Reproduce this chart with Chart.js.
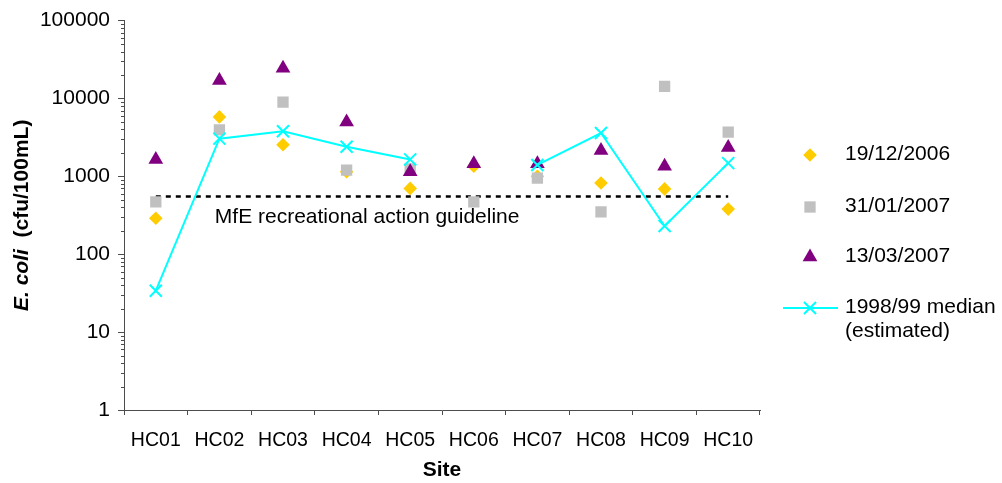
<!DOCTYPE html>
<html>
<head>
<meta charset="utf-8">
<script src="https://cdn.jsdelivr.net/npm/chart.js@4"></script>
<style>
  html, body { margin: 0; padding: 0; background: #fff; }
  #wrap { width: 1002px; height: 483px; position: relative; }
</style>
</head>
<body>
<div id="wrap"><canvas id="c" width="1002" height="483"></canvas></div>
<script>
// Sampling sites along the creek
const sites = ['HC01', 'HC02', 'HC03', 'HC04', 'HC05', 'HC06', 'HC07', 'HC08', 'HC09', 'HC10'];

// E. coli counts (cfu/100mL) for each sampling round
const dec2006 = [290, 5800, 2550, 1150, 700, 1350, 1000, 820, 690, 380];
const jan2007 = [470, 3950, 9000, 1200, 1250, 470, 950, 350, 14300, 3700];
const mar2007 = [1650, 17000, 24500, 5000, 1150, 1450, 1450, 2150, 1350, 2350];

// Estimated 1998/99 medians (no value for HC06)
const median9899 = [34, 3050, 3800, 2400, 1650, null, 1400, 3600, 230, 1480];

// MfE recreational action guideline level
const guidelineValue = 550;
const guideline = sites.map(() => guidelineValue);

// Log axis labels
const yTicks = [1, 10, 100, 1000, 10000, 100000];

const FONT = '"Liberation Sans", Arial, sans-serif';
const AXIS_COLOR = '#4d4d4d';

const seriesStyles = {
  dec: { label: '19/12/2006', pointStyle: 'rectRot', color: '#FFCC00', radius: 6.8 },
  jan: { label: '31/01/2007', pointStyle: 'rect', color: '#C0C0C0', radius: 8 },
  mar: { label: '13/03/2007', pointStyle: 'triangle', color: '#800080', radius: 8.5 },
  med: { label: '1998/99 median', pointStyle: 'crossRot', color: '#00FFFF', radius: 8.5 }
};

function markerDataset(data, s, order) {
  return {
    label: s.label,
    data: data,
    showLine: false,
    pointStyle: s.pointStyle,
    pointRadius: s.radius,
    pointHoverRadius: s.radius,
    pointBackgroundColor: s.color,
    pointBorderColor: s.color,
    pointBorderWidth: 0,
    borderColor: s.color,
    backgroundColor: s.color,
    order: order
  };
}

// Minor log ticks, guideline caption, y-axis title and legend
const decorations = {
  id: 'decorations',
  afterDraw(chart) {
    const ctx = chart.ctx;
    const x = chart.scales.x;
    const y = chart.scales.y;
    const area = chart.chartArea;

    // minor ticks on the log axis
    ctx.save();
    ctx.strokeStyle = AXIS_COLOR;
    ctx.lineWidth = 1;
    ctx.beginPath();
    for (let k = 0; k < 5; k++) {
      for (let m = 2; m <= 9; m++) {
        const py = Math.round(y.getPixelForValue(m * Math.pow(10, k))) + 0.5;
        ctx.moveTo(area.left - 3, py);
        ctx.lineTo(area.left, py);
      }
    }
    ctx.stroke();
    ctx.restore();

    // guideline caption
    ctx.save();
    ctx.fillStyle = '#000';
    ctx.font = '21px ' + FONT;
    ctx.textAlign = 'left';
    ctx.textBaseline = 'middle';
    ctx.fillText('MfE recreational action guideline',
      x.getPixelForValue(0) + 59, y.getPixelForValue(guidelineValue) + 21);
    ctx.restore();

    // y-axis title: italic species name followed by units
    ctx.save();
    const part1 = 'E. coli';
    const part2 = '  (cfu/100mL)';
    ctx.translate(22, (area.top + area.bottom) / 2);
    ctx.rotate(-Math.PI / 2);
    ctx.fillStyle = '#000';
    ctx.textBaseline = 'middle';
    ctx.textAlign = 'left';
    ctx.font = 'italic bold 21px ' + FONT;
    const w1 = ctx.measureText(part1).width;
    ctx.font = 'bold 21px ' + FONT;
    const w2 = ctx.measureText(part2).width;
    const start = -(w1 + w2) / 2;
    ctx.font = 'italic bold 21px ' + FONT;
    ctx.fillText(part1, start, 0);
    ctx.font = 'bold 21px ' + FONT;
    ctx.fillText(part2, start + w1, 0);
    ctx.restore();

    // legend
    const lx = 810, tx = 845;
    const items = [
      { s: seriesStyles.dec, y: 155, text: ['19/12/2006'] },
      { s: seriesStyles.jan, y: 207, text: ['31/01/2007'] },
      { s: seriesStyles.mar, y: 257, text: ['13/03/2007'] },
      { s: seriesStyles.med, y: 308, text: ['1998/99 median', '(estimated)'], line: true }
    ];
    items.forEach(it => {
      ctx.save();
      ctx.fillStyle = it.s.color;
      ctx.strokeStyle = it.s.color;
      ctx.lineWidth = 2;
      if (it.line) {
        ctx.beginPath();
        ctx.moveTo(783, it.y);
        ctx.lineTo(838, it.y);
        ctx.stroke();
      }
      Chart.helpers.drawPoint(ctx, {
        pointStyle: it.s.pointStyle,
        radius: it.s.radius,
        rotation: 0,
        borderWidth: it.line ? 2 : 0
      }, lx, it.y);
      ctx.restore();

      ctx.save();
      ctx.fillStyle = '#000';
      ctx.font = '21px ' + FONT;
      ctx.textAlign = 'left';
      ctx.textBaseline = 'middle';
      it.text.forEach((t, i) => ctx.fillText(t, tx, it.y - 1 + i * 24));
      ctx.restore();
    });
  }
};

new Chart(document.getElementById('c'), {
  type: 'line',
  data: {
    labels: sites,
    datasets: [
      markerDataset(dec2006, seriesStyles.dec, 3),
      markerDataset(jan2007, seriesStyles.jan, 2),
      markerDataset(mar2007, seriesStyles.mar, 1),
      {
        label: '1998/99 median (estimated)',
        data: median9899,
        borderColor: '#00FFFF',
        borderWidth: 2,
        pointStyle: 'crossRot',
        pointRadius: seriesStyles.med.radius,
        pointHoverRadius: seriesStyles.med.radius,
        pointBorderColor: '#00FFFF',
        pointBorderWidth: 2,
        spanGaps: false,
        tension: 0,
        order: 0
      },
      {
        label: 'MfE recreational action guideline',
        data: guideline,
        borderColor: '#000',
        borderWidth: 2.5,
        borderDash: [5, 5],
        pointRadius: 0,
        pointHoverRadius: 0,
        order: 4
      }
    ]
  },
  options: {
    responsive: false,
    animation: false,
    events: [],
    layout: { padding: { left: 0, right: 242, top: 20, bottom: 0 } },
    plugins: { legend: { display: false }, tooltip: { enabled: false } },
    scales: {
      x: {
        type: 'category',
        offset: true,
        grid: {
          offset: true,
          drawOnChartArea: false,
          drawTicks: true,
          tickLength: 5,
          tickColor: AXIS_COLOR,
          color: AXIS_COLOR
        },
        border: { color: AXIS_COLOR, width: 1 },
        ticks: {
          color: '#000',
          font: { family: FONT, size: 19.5 },
          padding: 14,
          maxRotation: 0,
          autoSkip: false
        },
        title: {
          display: true,
          text: 'Site',
          color: '#000',
          font: { family: FONT, size: 21, weight: 'bold' },
          padding: { top: 1, bottom: 0 }
        },
        afterFit(scale) { scale.height = 73; }
      },
      y: {
        type: 'logarithmic',
        min: 1,
        max: 100000,
        grid: {
          drawOnChartArea: false,
          drawTicks: true,
          tickLength: 6,
          tickColor: AXIS_COLOR,
          color: AXIS_COLOR
        },
        border: { color: AXIS_COLOR, width: 1 },
        afterBuildTicks(scale) {
          scale.ticks = yTicks.map(v => ({ value: v }));
        },
        ticks: {
          color: '#000',
          font: { family: FONT, size: 21 },
          padding: 8,
          callback: v => String(v)
        },
        afterFit(scale) { scale.width = 124; }
      }
    }
  },
  plugins: [decorations]
});
</script>
</body>
</html>
